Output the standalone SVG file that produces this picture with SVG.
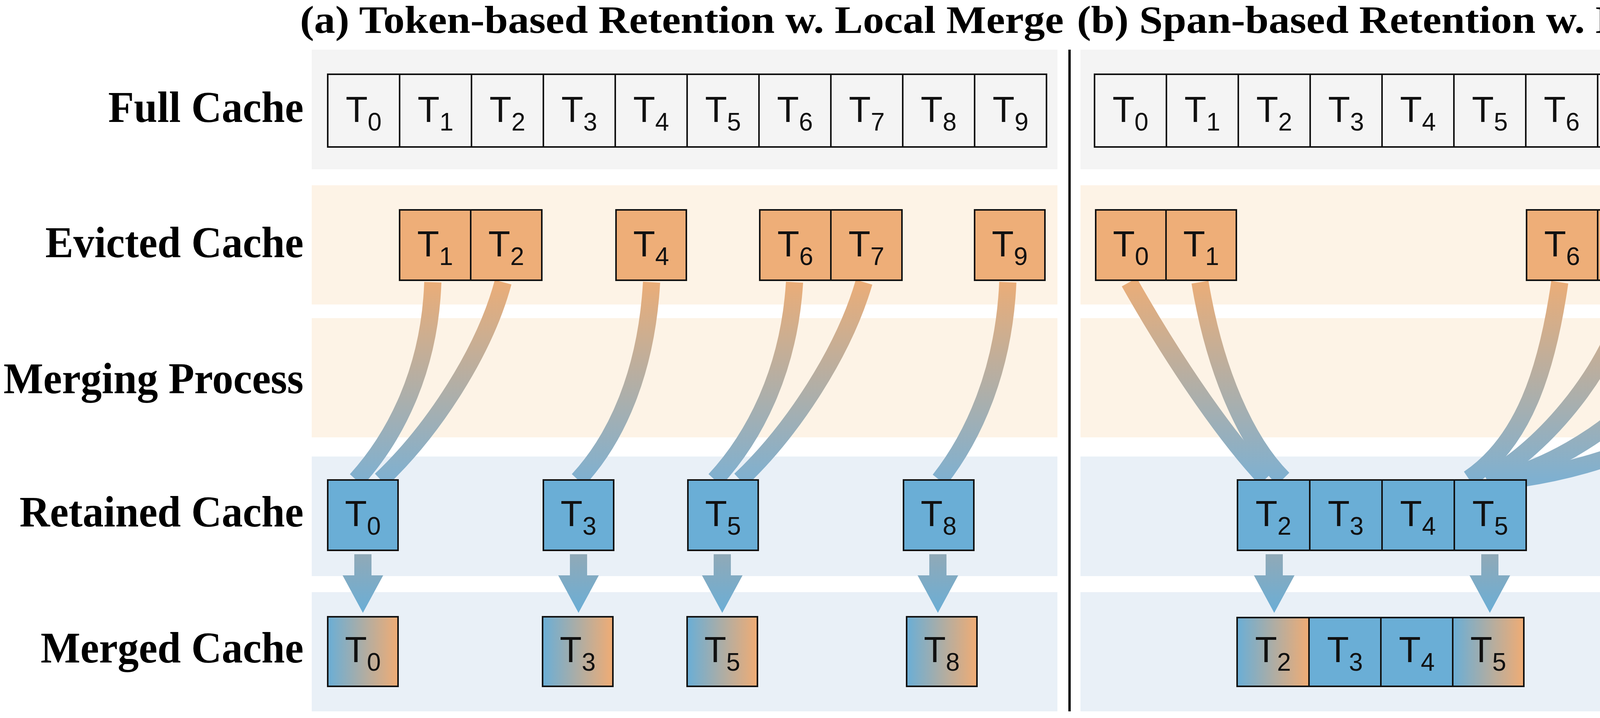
<svg xmlns="http://www.w3.org/2000/svg" width="6662" height="1837" viewBox="0 0 6662 1837">
<defs>
<linearGradient id="gc" x1="0" y1="0" x2="0" y2="1"><stop offset="0" stop-color="#eaad78"/><stop offset="1" stop-color="#7fb0d0"/></linearGradient>
<linearGradient id="gf" x1="0" y1="0" x2="0" y2="1"><stop offset="0" stop-color="#d9a070" stop-opacity="0.75"/><stop offset="1" stop-color="#8cc4e8" stop-opacity="0.6"/></linearGradient>
<linearGradient id="ga" x1="0" y1="0" x2="0" y2="1"><stop offset="0" stop-color="#90a9b7"/><stop offset="1" stop-color="#6aaed6"/></linearGradient>
<linearGradient id="gm" x1="0" y1="0" x2="1" y2="0"><stop offset="0" stop-color="#6aaed6"/><stop offset="1" stop-color="#f0ac74"/></linearGradient>
<path id="arr" d="M-22 0h44v54h30l-52 96l-52-96h30z" fill="url(#ga)"/>
</defs>
<style>
.bg{fill:#f4f4f4}.be{fill:#fdf3e6}.br{fill:#e9f0f7}
.cf{fill:#f4f4f4;stroke:#111;stroke-width:4}
.ce{fill:#eeae78;stroke:#111;stroke-width:4}
.cr{fill:#6aaed6;stroke:#111;stroke-width:4}
.cm{fill:url(#gm);stroke:#111;stroke-width:4}
.t{font-family:"Liberation Sans",Arial,sans-serif;font-size:92px;text-anchor:middle;fill:#111}
.s{font-size:64px}
.lab{font-family:"Liberation Serif","Times New Roman",serif;font-weight:bold;font-size:112px;text-anchor:end;fill:#000}
.ttl{font-family:"Liberation Serif","Times New Roman",serif;font-weight:bold;font-size:100px;fill:#000}
.cv{fill:none;stroke:url(#gc);stroke-width:44}
.fan{fill:url(#gf)}
</style>
<g id="bands">
<rect class="bg" x="798" y="127" width="1909" height="306"/><rect class="be" x="798" y="474" width="1909" height="305"/><rect class="be" x="798" y="814" width="1909" height="305"/><rect class="br" x="798" y="1168" width="1909" height="306"/><rect class="br" x="798" y="1515" width="1909" height="305"/>
<rect class="bg" x="2766" y="127" width="1908" height="306"/><rect class="be" x="2766" y="474" width="1908" height="305"/><rect class="be" x="2766" y="814" width="1908" height="305"/><rect class="br" x="2766" y="1168" width="1908" height="306"/><rect class="br" x="2766" y="1515" width="1908" height="305"/>
<rect class="bg" x="4728" y="127" width="1908" height="306"/><rect class="be" x="4728" y="474" width="1908" height="305"/><rect class="be" x="4728" y="814" width="1908" height="305"/><rect class="br" x="4728" y="1168" width="1908" height="306"/><rect class="br" x="4728" y="1515" width="1908" height="305"/>
<line x1="2738" y1="127" x2="2738" y2="1820" stroke="#000" stroke-width="6"/>
<line x1="4697" y1="127" x2="4697" y2="1820" stroke="#000" stroke-width="6"/>
</g>
<g id="titles">
<text class="ttl" x="768" y="84" textLength="1955" lengthAdjust="spacingAndGlyphs">(a) Token-based Retention w. Local Merge</text>
<text class="ttl" x="2757" y="84" textLength="1914" lengthAdjust="spacingAndGlyphs">(b) Span-based Retention w. Local Merge</text>
<text class="ttl" x="4725" y="84" textLength="1925" lengthAdjust="spacingAndGlyphs">(c) Span-based Retention w. Global Merge</text>
</g>
<g id="row-labels">
<text class="lab" x="777" y="312" textLength="500" lengthAdjust="spacingAndGlyphs">Full Cache</text>
<text class="lab" x="777" y="658" textLength="661" lengthAdjust="spacingAndGlyphs">Evicted Cache</text>
<text class="lab" x="777" y="1006" textLength="768" lengthAdjust="spacingAndGlyphs">Merging Process</text>
<text class="lab" x="777" y="1347" textLength="727" lengthAdjust="spacingAndGlyphs">Retained Cache</text>
<text class="lab" x="777" y="1695" textLength="673" lengthAdjust="spacingAndGlyphs">Merged Cache</text>
</g>
<g id="connectors">
<path class="cv" d="M1108 722C1100 950 1010 1120 912 1228"/>
<path class="cv" d="M1288 722C1240 900 1110 1100 975 1228"/>
<path class="cv" d="M1668 722C1655 950 1580 1120 1480 1228"/>
<path class="cv" d="M2034 722C2020 950 1930 1120 1830 1228"/>
<path class="cv" d="M2212 722C2160 900 2030 1100 1895 1228"/>
<path class="cv" d="M2580 722C2570 950 2490 1120 2405 1228"/>
<path class="cv" d="M2891 722C3020 950 3150 1130 3240 1225"/>
<path class="cv" d="M3072 722C3110 950 3190 1130 3285 1225"/>
<path class="cv" d="M3993 722C3960 950 3900 1130 3760 1225"/>
<path class="cv" d="M4175 722C4140 930 3950 1150 3805 1225"/>
<path class="cv" d="M4358 722C4330 950 4080 1160 3845 1225"/>
<path class="cv" d="M4537 722C4520 1000 4250 1170 3890 1225"/>
<polygon class="fan" points="4841,722 4906,722 5884,1218 5152,1218"/>
<polygon class="fan" points="5019,722 5082,722 5884,1218 5152,1218"/>
<polygon class="fan" points="5932,722 6001,722 5884,1218 5152,1218"/>
<polygon class="fan" points="6107,722 6179,722 5884,1218 5152,1218"/>
<polygon class="fan" points="6286,722 6358,722 5884,1218 5152,1218"/>
<polygon class="fan" points="6451,722 6541,722 5884,1218 5152,1218"/>
<use href="#arr" x="929" y="1418"/><use href="#arr" x="1481" y="1418"/><use href="#arr" x="1849" y="1418"/><use href="#arr" x="2401" y="1418"/>
<use href="#arr" x="3262" y="1418"/><use href="#arr" x="3814" y="1418"/>
<use href="#arr" x="5244" y="1408"/><use href="#arr" x="5428" y="1408"/><use href="#arr" x="5612" y="1408"/><use href="#arr" x="5796" y="1408"/>
</g>
<g id="full-a">
<rect class="cf" x="839" y="190" width="184" height="186"/><rect class="cf" x="1023" y="190" width="184" height="186"/><rect class="cf" x="1207" y="190" width="184" height="186"/><rect class="cf" x="1391" y="190" width="184" height="186"/><rect class="cf" x="1575" y="190" width="184" height="186"/><rect class="cf" x="1759" y="190" width="184" height="186"/><rect class="cf" x="1943" y="190" width="184" height="186"/><rect class="cf" x="2127" y="190" width="184" height="186"/><rect class="cf" x="2311" y="190" width="184" height="186"/><rect class="cf" x="2495" y="190" width="184" height="186"/>
<text class="t" y="312"><tspan x="931">T<tspan class="s" dy="22">0</tspan></tspan></text>
<text class="t" y="312"><tspan x="1115">T<tspan class="s" dy="22">1</tspan></tspan></text>
<text class="t" y="312"><tspan x="1299">T<tspan class="s" dy="22">2</tspan></tspan></text>
<text class="t" y="312"><tspan x="1483">T<tspan class="s" dy="22">3</tspan></tspan></text>
<text class="t" y="312"><tspan x="1667">T<tspan class="s" dy="22">4</tspan></tspan></text>
<text class="t" y="312"><tspan x="1851">T<tspan class="s" dy="22">5</tspan></tspan></text>
<text class="t" y="312"><tspan x="2035">T<tspan class="s" dy="22">6</tspan></tspan></text>
<text class="t" y="312"><tspan x="2219">T<tspan class="s" dy="22">7</tspan></tspan></text>
<text class="t" y="312"><tspan x="2403">T<tspan class="s" dy="22">8</tspan></tspan></text>
<text class="t" y="312"><tspan x="2587">T<tspan class="s" dy="22">9</tspan></tspan></text>
</g>
<g id="full-b">
<rect class="cf" x="2802" y="190" width="184" height="186"/><rect class="cf" x="2986" y="190" width="184" height="186"/><rect class="cf" x="3170" y="190" width="184" height="186"/><rect class="cf" x="3354" y="190" width="184" height="186"/><rect class="cf" x="3538" y="190" width="184" height="186"/><rect class="cf" x="3722" y="190" width="184" height="186"/><rect class="cf" x="3906" y="190" width="184" height="186"/><rect class="cf" x="4090" y="190" width="184" height="186"/><rect class="cf" x="4274" y="190" width="184" height="186"/><rect class="cf" x="4458" y="190" width="184" height="186"/>
<text class="t" y="312"><tspan x="2894">T<tspan class="s" dy="22">0</tspan></tspan></text>
<text class="t" y="312"><tspan x="3078">T<tspan class="s" dy="22">1</tspan></tspan></text>
<text class="t" y="312"><tspan x="3262">T<tspan class="s" dy="22">2</tspan></tspan></text>
<text class="t" y="312"><tspan x="3446">T<tspan class="s" dy="22">3</tspan></tspan></text>
<text class="t" y="312"><tspan x="3630">T<tspan class="s" dy="22">4</tspan></tspan></text>
<text class="t" y="312"><tspan x="3814">T<tspan class="s" dy="22">5</tspan></tspan></text>
<text class="t" y="312"><tspan x="3998">T<tspan class="s" dy="22">6</tspan></tspan></text>
<text class="t" y="312"><tspan x="4182">T<tspan class="s" dy="22">7</tspan></tspan></text>
<text class="t" y="312"><tspan x="4366">T<tspan class="s" dy="22">8</tspan></tspan></text>
<text class="t" y="312"><tspan x="4550">T<tspan class="s" dy="22">9</tspan></tspan></text>
</g>
<g id="full-c">
<rect class="cf" x="4765" y="190" width="184" height="186"/><rect class="cf" x="4949" y="190" width="184" height="186"/><rect class="cf" x="5133" y="190" width="184" height="186"/><rect class="cf" x="5317" y="190" width="184" height="186"/><rect class="cf" x="5501" y="190" width="184" height="186"/><rect class="cf" x="5685" y="190" width="184" height="186"/><rect class="cf" x="5869" y="190" width="184" height="186"/><rect class="cf" x="6053" y="190" width="184" height="186"/><rect class="cf" x="6237" y="190" width="184" height="186"/><rect class="cf" x="6421" y="190" width="184" height="186"/>
<text class="t" y="312"><tspan x="4857">T<tspan class="s" dy="22">0</tspan></tspan></text>
<text class="t" y="312"><tspan x="5041">T<tspan class="s" dy="22">1</tspan></tspan></text>
<text class="t" y="312"><tspan x="5225">T<tspan class="s" dy="22">2</tspan></tspan></text>
<text class="t" y="312"><tspan x="5409">T<tspan class="s" dy="22">3</tspan></tspan></text>
<text class="t" y="312"><tspan x="5593">T<tspan class="s" dy="22">4</tspan></tspan></text>
<text class="t" y="312"><tspan x="5777">T<tspan class="s" dy="22">5</tspan></tspan></text>
<text class="t" y="312"><tspan x="5961">T<tspan class="s" dy="22">6</tspan></tspan></text>
<text class="t" y="312"><tspan x="6145">T<tspan class="s" dy="22">7</tspan></tspan></text>
<text class="t" y="312"><tspan x="6329">T<tspan class="s" dy="22">8</tspan></tspan></text>
<text class="t" y="312"><tspan x="6513">T<tspan class="s" dy="22">9</tspan></tspan></text>
</g>
<g id="evicted-a">
<rect class="ce" x="1023" y="537" width="182" height="180"/><rect class="ce" x="1205" y="537" width="182" height="180"/><rect class="ce" x="1577" y="537" width="180" height="180"/><rect class="ce" x="1945" y="537" width="182" height="180"/><rect class="ce" x="2127" y="537" width="182" height="180"/><rect class="ce" x="2495" y="537" width="180" height="180"/>
<text class="t" y="656"><tspan x="1114">T<tspan class="s" dy="22">1</tspan></tspan></text>
<text class="t" y="656"><tspan x="1296">T<tspan class="s" dy="22">2</tspan></tspan></text>
<text class="t" y="656"><tspan x="1667">T<tspan class="s" dy="22">4</tspan></tspan></text>
<text class="t" y="656"><tspan x="2036">T<tspan class="s" dy="22">6</tspan></tspan></text>
<text class="t" y="656"><tspan x="2218">T<tspan class="s" dy="22">7</tspan></tspan></text>
<text class="t" y="656"><tspan x="2585">T<tspan class="s" dy="22">9</tspan></tspan></text>
</g>
<g id="retained-a">
<rect class="cr" x="839" y="1228" width="180" height="180"/><rect class="cr" x="1391" y="1228" width="180" height="180"/><rect class="cr" x="1761" y="1228" width="180" height="180"/><rect class="cr" x="2313" y="1228" width="180" height="180"/>
<text class="t" y="1346"><tspan x="929">T<tspan class="s" dy="22">0</tspan></tspan></text>
<text class="t" y="1346"><tspan x="1481">T<tspan class="s" dy="22">3</tspan></tspan></text>
<text class="t" y="1346"><tspan x="1851">T<tspan class="s" dy="22">5</tspan></tspan></text>
<text class="t" y="1346"><tspan x="2403">T<tspan class="s" dy="22">8</tspan></tspan></text>
</g>
<g id="merged-a">
<rect class="cm" x="839" y="1578" width="180" height="178"/><rect class="cm" x="1389" y="1578" width="180" height="178"/><rect class="cm" x="1759" y="1578" width="180" height="178"/><rect class="cm" x="2321" y="1578" width="180" height="178"/>
<text class="t" y="1694"><tspan x="929">T<tspan class="s" dy="22">0</tspan></tspan></text>
<text class="t" y="1694"><tspan x="1479">T<tspan class="s" dy="22">3</tspan></tspan></text>
<text class="t" y="1694"><tspan x="1849">T<tspan class="s" dy="22">5</tspan></tspan></text>
<text class="t" y="1694"><tspan x="2411">T<tspan class="s" dy="22">8</tspan></tspan></text>
</g>
<g id="evicted-b">
<rect class="ce" x="2805" y="537" width="180" height="180"/><rect class="ce" x="2985" y="537" width="180" height="180"/><rect class="ce" x="3908" y="537" width="182" height="180"/><rect class="ce" x="4090" y="537" width="182" height="180"/><rect class="ce" x="4272" y="537" width="182" height="180"/><rect class="ce" x="4454" y="537" width="182" height="180"/>
<text class="t" y="656"><tspan x="2895">T<tspan class="s" dy="22">0</tspan></tspan></text>
<text class="t" y="656"><tspan x="3075">T<tspan class="s" dy="22">1</tspan></tspan></text>
<text class="t" y="656"><tspan x="3999">T<tspan class="s" dy="22">6</tspan></tspan></text>
<text class="t" y="656"><tspan x="4181">T<tspan class="s" dy="22">7</tspan></tspan></text>
<text class="t" y="656"><tspan x="4363">T<tspan class="s" dy="22">8</tspan></tspan></text>
<text class="t" y="656"><tspan x="4545">T<tspan class="s" dy="22">9</tspan></tspan></text>
</g>
<g id="retained-b">
<rect class="cr" x="3168" y="1228" width="185" height="180"/><rect class="cr" x="3353" y="1228" width="185" height="180"/><rect class="cr" x="3538" y="1228" width="185" height="180"/><rect class="cr" x="3723" y="1228" width="184" height="180"/>
<text class="t" y="1346"><tspan x="3260">T<tspan class="s" dy="22">2</tspan></tspan></text>
<text class="t" y="1346"><tspan x="3445">T<tspan class="s" dy="22">3</tspan></tspan></text>
<text class="t" y="1346"><tspan x="3630">T<tspan class="s" dy="22">4</tspan></tspan></text>
<text class="t" y="1346"><tspan x="3815">T<tspan class="s" dy="22">5</tspan></tspan></text>
</g>
<g id="merged-b">
<rect class="cm" x="3167" y="1580" width="184" height="176"/><rect class="cr" x="3351" y="1580" width="184" height="176"/><rect class="cr" x="3535" y="1580" width="184" height="176"/><rect class="cm" x="3719" y="1580" width="182" height="176"/>
<text class="t" y="1694"><tspan x="3259">T<tspan class="s" dy="22">2</tspan></tspan></text>
<text class="t" y="1694"><tspan x="3443">T<tspan class="s" dy="22">3</tspan></tspan></text>
<text class="t" y="1694"><tspan x="3627">T<tspan class="s" dy="22">4</tspan></tspan></text>
<text class="t" y="1694"><tspan x="3810">T<tspan class="s" dy="22">5</tspan></tspan></text>
</g>
<g id="evicted-c">
<rect class="ce" x="4766" y="535" width="180" height="183"/><rect class="ce" x="4946" y="535" width="180" height="183"/><rect class="ce" x="5872" y="537" width="182" height="181"/><rect class="ce" x="6054" y="537" width="182" height="181"/><rect class="ce" x="6236" y="537" width="182" height="181"/><rect class="ce" x="6418" y="537" width="182" height="181"/>
<text class="t" y="656"><tspan x="4856">T<tspan class="s" dy="22">0</tspan></tspan></text>
<text class="t" y="656"><tspan x="5036">T<tspan class="s" dy="22">1</tspan></tspan></text>
<text class="t" y="656"><tspan x="5963">T<tspan class="s" dy="22">6</tspan></tspan></text>
<text class="t" y="656"><tspan x="6145">T<tspan class="s" dy="22">7</tspan></tspan></text>
<text class="t" y="656"><tspan x="6327">T<tspan class="s" dy="22">8</tspan></tspan></text>
<text class="t" y="656"><tspan x="6509">T<tspan class="s" dy="22">9</tspan></tspan></text>
</g>
<g id="retained-c">
<rect class="cr" x="5152" y="1220" width="184" height="182"/><rect class="cr" x="5336" y="1220" width="184" height="182"/><rect class="cr" x="5520" y="1220" width="184" height="182"/><rect class="cr" x="5704" y="1220" width="180" height="182"/>
<text class="t" y="1338"><tspan x="5244">T<tspan class="s" dy="22">2</tspan></tspan></text>
<text class="t" y="1338"><tspan x="5428">T<tspan class="s" dy="22">3</tspan></tspan></text>
<text class="t" y="1338"><tspan x="5612">T<tspan class="s" dy="22">4</tspan></tspan></text>
<text class="t" y="1338"><tspan x="5794">T<tspan class="s" dy="22">5</tspan></tspan></text>
</g>
<g id="merged-c">
<rect class="cm" x="5152" y="1577" width="184" height="170"/><rect class="cm" x="5336" y="1577" width="184" height="170"/><rect class="cm" x="5520" y="1577" width="184" height="170"/><rect class="cm" x="5704" y="1577" width="180" height="170"/>
<text class="t" y="1690"><tspan x="5244">T<tspan class="s" dy="22">2</tspan></tspan></text>
<text class="t" y="1690"><tspan x="5428">T<tspan class="s" dy="22">3</tspan></tspan></text>
<text class="t" y="1690"><tspan x="5612">T<tspan class="s" dy="22">4</tspan></tspan></text>
<text class="t" y="1690"><tspan x="5794">T<tspan class="s" dy="22">5</tspan></tspan></text>
</g>
</svg>
